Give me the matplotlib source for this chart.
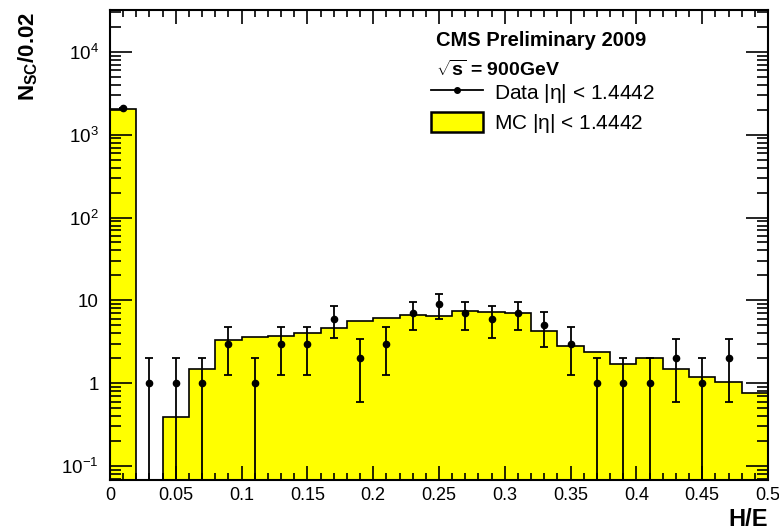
import numpy as np
import matplotlib.pyplot as plt
from matplotlib.lines import Line2D
from matplotlib.patches import Patch
from matplotlib.ticker import FixedLocator, FixedFormatter, MultipleLocator

plt.rcParams['font.family'] = ['Liberation Sans', 'DejaVu Sans']
plt.rcParams['mathtext.fontset'] = 'custom'
plt.rcParams['mathtext.rm'] = 'Liberation Sans'
plt.rcParams['mathtext.bf'] = 'Liberation Sans:bold'
plt.rcParams['mathtext.it'] = 'Liberation Sans:italic'

# H/E binning, 0.02 wide
bin_edges = np.linspace(0.0, 0.5, 26)

# simulated supercluster counts per bin
mc_counts = [2050, 0, 0.39, 1.5, 3.3, 3.6, 3.7, 4.0, 4.6, 5.6, 6.2, 6.6, 6.4,
             7.4, 7.2, 7.0, 4.3, 2.8, 2.4, 1.7, 2.0, 1.5, 1.2, 1.03, 0.76]

# observed counts per bin
data_counts = [2080, 1, 1, 1, 3, 1, 3, 3, 6, 2, 3, 7, 9,
               7, 6, 7, 5, 3, 1, 1, 1, 2, 1, 2, 0]

ytick_vals = [0.1, 1, 10, 100, 1000, 10000]
ytick_labels = [r'$\mathdefault{10^{-1}}$', '1', '10', r'$\mathdefault{10^{2}}$',
                r'$\mathdefault{10^{3}}$', r'$\mathdefault{10^{4}}$']
xtick_vals = [0, 0.05, 0.1, 0.15, 0.2, 0.25, 0.3, 0.35, 0.4, 0.45, 0.5]
xtick_labels = ['0', '0.05', '0.1', '0.15', '0.2', '0.25', '0.3', '0.35', '0.4', '0.45', '0.5']

floor = 1e-3
mc = np.array(mc_counts, dtype=float)
mc_plot = np.where(mc > 0, mc, floor)
data = np.array(data_counts, dtype=float)
centers = 0.5 * (bin_edges[:-1] + bin_edges[1:])

fig = plt.figure(figsize=(7.79, 5.30), dpi=100)
ax = fig.add_axes([110 / 779, 50 / 530, 658 / 779, 470 / 530])
ax.set_yscale('log')

ax.stairs(mc_plot, bin_edges, baseline=floor, fill=True, color='#ffff00', lw=0)
ax.stairs(mc_plot, bin_edges, baseline=floor, color='black', lw=1.2)

sel = data > 0
err = np.sqrt(data[sel])
lo = np.minimum(err, data[sel] - floor)
ax.errorbar(centers[sel], data[sel], yerr=[lo, err], fmt='o', color='black',
            ms=4.5, elinewidth=1.3, capsize=2.6, capthick=1.3)

ax.set_xlim(0, 0.5)
ax.set_ylim(0.0678, 32000)

ax.xaxis.set_major_locator(FixedLocator(xtick_vals))
ax.xaxis.set_major_formatter(FixedFormatter(xtick_labels))
ax.xaxis.set_minor_locator(MultipleLocator(0.01))
ax.yaxis.set_major_locator(FixedLocator(ytick_vals))
ax.yaxis.set_major_formatter(FixedFormatter(ytick_labels))

ax.tick_params(which='both', direction='in', top=True, right=True, width=1.2)
ax.tick_params(axis='x', which='major', length=10, labelsize=13, pad=5)
ax.tick_params(axis='x', which='minor', length=5)
ax.tick_params(axis='y', which='major', length=16, labelsize=13.5, pad=8)
ax.tick_params(axis='y', which='minor', length=8)
for s in ax.spines.values():
    s.set_linewidth(1.5)

ax.set_xlabel('H/E', fontsize=17, fontweight='bold', loc='right')
ax.xaxis.set_label_coords(1.0, -0.06)
ax.set_ylabel(r'$\mathbf{N}_{\mathbf{SC}}\mathbf{/0.02}$', fontsize=16, loc='top')
ax.yaxis.set_label_coords(-0.106, 0.995)

ax.text(0.496, 0.935, 'CMS Preliminary 2009', transform=ax.transAxes,
        fontsize=14.5, fontweight='bold', va='center')
ax.text(0.496, 0.873, r'$\mathbf{\sqrt{s}}$ = 900GeV', transform=ax.transAxes,
        fontsize=14, fontweight='bold', va='center')

handles = [Line2D([], [], color='black', marker='o', ms=4, lw=1.3),
           Patch(facecolor='#ffff00', edgecolor='black', lw=1.8)]
ax.legend(handles, [r'Data |$\mathdefault{\eta}$| < 1.4442', r'MC |$\mathdefault{\eta}$| < 1.4442'],
          loc='upper left', bbox_to_anchor=(0.488, 0.848), frameon=False,
          fontsize=15, handlelength=2.5, handleheight=1.1, handletextpad=0.5,
          labelspacing=0.35, borderaxespad=0, borderpad=0)

fig.savefig('out.png', dpi=100)
